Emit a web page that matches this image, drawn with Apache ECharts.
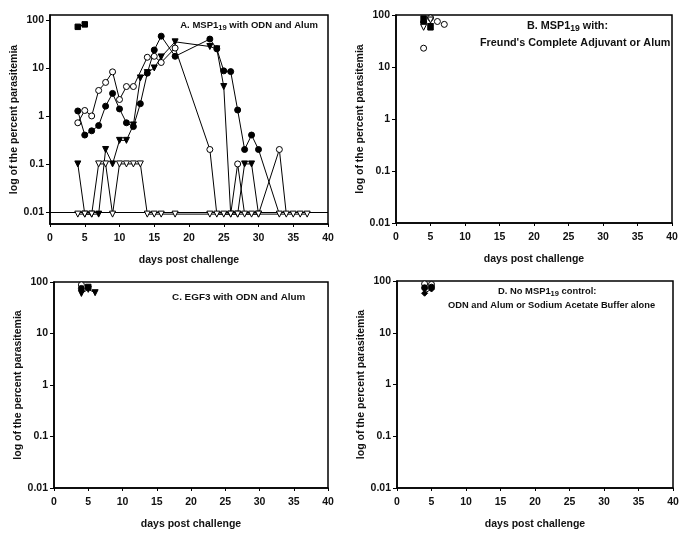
<!DOCTYPE html>
<html><head><meta charset="utf-8">
<script src="https://cdn.jsdelivr.net/npm/echarts@6/dist/echarts.min.js"></script>
<style>html,body{margin:0;padding:0;background:#fff}#c{width:693px;height:539px}</style>
</head><body><div id="c"></div>
<script>
// ---------- Panel A data ----------
const aSqDays=[4,5];
const aSqVals=[72,81];
const aOcDays=[4,5,6,7,8,9,10,11,12,14,15,16,18,23,24,25,26,27,28,29,30,33,34];
const aOcVals=[0.72,1.3,1.0,3.4,5.0,8.3,2.2,4.1,4.1,16.7,17.5,13,26,0.2,0.009,0.009,0.009,0.1,0.009,0.009,0.009,0.2,0.009];
const aFcDays=[4,5,6,7,8,9,10,11,12,13,14,15,16,18,23,24,25,26,27,28,29,30,33];
const aFcVals=[1.27,0.40,0.49,0.63,1.6,2.95,1.4,0.72,0.6,1.8,7.8,23.7,46,17.5,40,25,8.7,8.4,1.33,0.2,0.4,0.2,0.009];
const aFtDays=[4,5,6,7,8,9,10,11,12,13,14,15,16,18,23,24,25,26,27,28,29,30];
const aFtVals=[0.1,0.009,0.009,0.009,0.2,0.1,0.31,0.31,0.65,6.2,8,10,17,35,28,25,4.1,0.009,0.009,0.1,0.1,0.009];
const aOtDays=[4,5,6,7,8,9,10,11,12,13,14,15,16,18,23,24,25,26,27,28,29,30,33,34,35,36,37];
const aOtVals=[0.009,0.009,0.009,0.1,0.1,0.009,0.1,0.1,0.1,0.1,0.009,0.009,0.009,0.009,0.009,0.009,0.009,0.009,0.009,0.009,0.009,0.009,0.009,0.009,0.009,0.009,0.009];
const aDetectLimit=0.01;
// ---------- Panel B data ----------
const bSqDays=[4,5]; const bSqVals=[85,58];
const bFcDays=[4]; const bFcVals=[72];
const bFtDays=[4,5]; const bFtVals=[65,60];
const bOtDays=[4,5]; const bOtVals=[58,80];
const bOcDays=[4,5,6,7]; const bOcVals=[23,88,75,66];
// ---------- Panel C data ----------
const cOcDays=[4]; const cOcVals=[88];
const cFcDays=[4]; const cFcVals=[75];
const cFtDays=[4,5,6]; const cFtVals=[60,72,62];
const cSqDays=[5]; const cSqVals=[80];
// ---------- Panel D data ----------
const dOcDays=[4,5]; const dOcVals=[88,86];
const dFcDays=[4,5]; const dFcVals=[74,76];
const dFdDays=[4,5]; const dFdVals=[58,70];
// ---------- tick labels ----------
const xTicks=[0,5,10,15,20,25,30,35,40];
const yTicks=[0.01,0.1,1,10,100];

const FONT='Liberation Sans';
const pairs=(xs,ys)=>xs.map((x,i)=>[x,ys[i]]);

const grids=[
  {left:50,right:365,top:15,bottom:315},
  {left:396,right:21,top:15,bottom:316},
  {left:54,right:365,top:282,bottom:51},
  {left:397,right:20,top:281,bottom:51}
];
const yRanges=[[0.0056,127],[0.01,100],[0.01,100],[0.01,100]];
const yNameGaps=[28,20,30,20];

const xAxes=grids.map((g,i)=>({
  type:'value',gridIndex:i,min:xTicks[0],max:xTicks[xTicks.length-1],interval:5,
  axisLine:{lineStyle:{color:'#000',width:1.5}},
  axisTick:{show:true,length:3,lineStyle:{color:'#000'}},
  splitLine:{show:false},
  axisLabel:{color:'#111',fontFamily:FONT,fontWeight:'bold',fontSize:10.5,margin:9},
  name:'days post challenge',nameLocation:'middle',nameGap:31,
  nameTextStyle:{color:'#111',fontFamily:FONT,fontWeight:'bold',fontSize:10.5}
}));
const yAxes=grids.map((g,i)=>({
  type:'log',logBase:10,gridIndex:i,min:yRanges[i][0],max:yRanges[i][1],
  axisLine:{show:true,lineStyle:{color:'#000',width:1.5}},
  axisTick:{show:true,length:4,lineStyle:{color:'#000'}},
  splitLine:{show:false},
  axisLabel:{color:'#111',fontFamily:FONT,fontWeight:'bold',fontSize:10.5,margin:6,
    showMinLabel:i!==0,showMaxLabel:i!==0,
    formatter:v=>{const r=yTicks.find(t=>Math.abs(Math.log10(t)-Math.log10(v))<1e-6);return r===undefined?'':String(r);}},
  name:'log of the percent parasitemia',nameLocation:'middle',nameGap:yNameGaps[i],
  nameTextStyle:{color:'#111',fontFamily:FONT,fontWeight:'bold',fontSize:10.5}
}));

function ser(gi,xs,ys,kind,withLine){
  const filled=kind[0]==='f'||kind==='sq';
  let sym='circle',rot=0;
  if(kind==='ft'||kind==='ot'){sym='triangle';rot=180;}
  if(kind==='sq') sym='rect';
  if(kind==='fd') sym='diamond';
  const hideBase=(kind==='oc'||kind==='fc');
  return {
    type:'line',xAxisIndex:gi,yAxisIndex:gi,data:pairs(xs,ys),
    symbol:hideBase?(v=>v[1]<aDetectLimit?'none':sym):sym,
    symbolRotate:rot,symbolSize:kind==='sq'?5.5:6,showAllSymbol:true,
    lineStyle:{color:'#000',width:withLine?1:0,opacity:withLine?1:0},
    itemStyle:{color:filled?'#000':'#fff',borderColor:'#000',borderWidth:1,opacity:1},
    silent:true,animation:false,z:kind==='ot'?5:3
  };
}

const series=[
  ser(0,aSqDays,aSqVals,'sq',true),
  ser(0,aOcDays,aOcVals,'oc',true),
  ser(0,aFcDays,aFcVals,'fc',true),
  ser(0,aFtDays,aFtVals,'ft',true),
  Object.assign(ser(0,aOtDays,aOtVals,'ot',true),{
    markLine:{silent:true,symbol:'none',label:{show:false},animation:false,
      lineStyle:{color:'#000',width:1,type:'solid'},data:[{yAxis:aDetectLimit}]}}),
  ser(1,bSqDays,bSqVals,'sq',false),
  ser(1,bFcDays,bFcVals,'fc',false),
  ser(1,bFtDays,bFtVals,'ft',false),
  ser(1,bOtDays,bOtVals,'ot',false),
  ser(1,bOcDays,bOcVals,'oc',false),
  ser(2,cOcDays,cOcVals,'oc',false),
  ser(2,cFcDays,cFcVals,'fc',false),
  ser(2,cFtDays,cFtVals,'ft',true),
  ser(2,cSqDays,cSqVals,'sq',false),
  ser(3,dOcDays,dOcVals,'oc',false),
  ser(3,dFcDays,dFcVals,'fc',false),
  ser(3,dFdDays,dFdVals,'fd',true)
];

function mkRich(fs){
  return {b:{fontFamily:FONT,fontWeight:'bold',fontSize:fs,color:'#111'},
          s:{fontFamily:FONT,fontWeight:'bold',fontSize:fs*0.8,color:'#111',padding:[Math.round(fs*0.5),0,0,0]}};
}
const titles=[
  {text:'{b|A. MSP1}{s|19}{b| with ODN and Alum}',right:375,top:19,fs:9.5},
  {text:'{b|B. MSP1}{s|19}{b| with:}',left:527,top:19,fs:10.8},
  {text:"{b|Freund's Complete Adjuvant or Alum}",left:480,top:38,fs:10.8},
  {text:'{b|C. EGF3 with ODN and Alum}',left:172,top:292,fs:9.9},
  {text:'{b|D. No MSP1}{s|19}{b| control:}',left:498,top:285,fs:9.4},
  {text:'{b|ODN and Alum or Sodium Acetate Buffer alone}',left:448,top:301,fs:9.3}
].map(t=>({text:t.text,left:t.left,right:t.right,top:t.top,padding:0,textStyle:{rich:mkRich(t.fs)}}));

const chart=echarts.init(document.getElementById('c'),null,{renderer:'canvas'});
chart.setOption({
  animation:false,backgroundColor:'#fff',
  title:titles,
  grid:grids.map(g=>Object.assign({show:true,borderColor:'#000',borderWidth:1.5,backgroundColor:'transparent'},g)),
  xAxis:xAxes,yAxis:yAxes,series
});
</script></body></html>
